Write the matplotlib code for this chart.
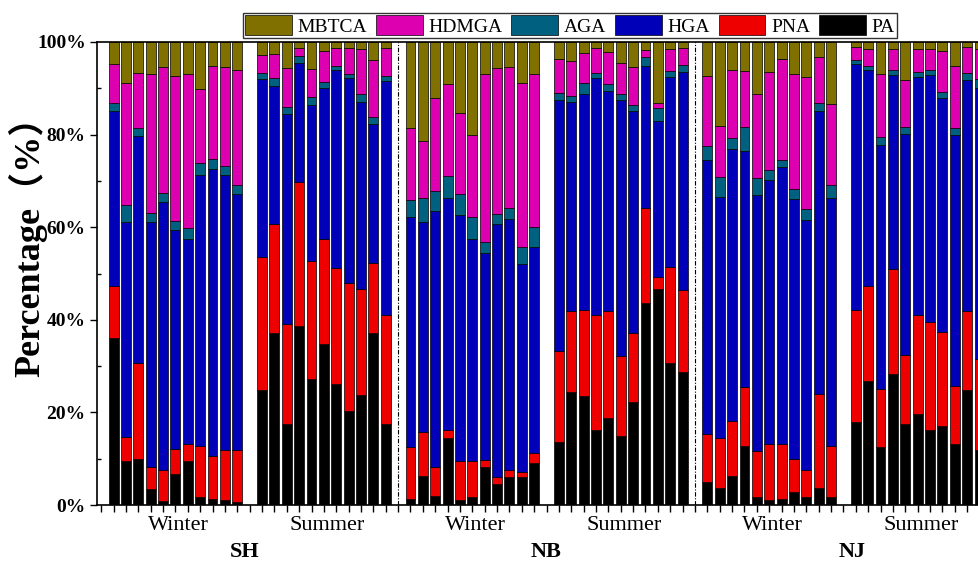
import numpy as np
import matplotlib.pyplot as plt

plt.rcParams['font.family'] = ['Liberation Serif', 'Noto Sans CJK SC']

species = ['PA', 'PNA', 'HGA', 'AGA', 'HDMGA', 'MBTCA']
colors = ['#000000', '#ee0000', '#0000b8', '#006080', '#dd00b0', '#7f7000']

# cumulative tops (%) of PA, PNA, HGA, AGA, HDMGA per sample, MBTCA fills up to 100
sh_winter = [[36.0, 47.2, 85.0, 86.8, 95.2], [9.4, 14.6, 61.2, 64.8, 91.1],
             [9.9, 30.6, 79.6, 81.4, 93.4], [3.5, 8.1, 61.1, 63.0, 93.0],
             [0.9, 7.6, 65.4, 67.3, 94.7], [6.6, 12.1, 59.4, 61.4, 92.7],
             [9.5, 13.2, 57.5, 59.8, 93.0], [1.8, 12.8, 71.3, 73.8, 89.8],
             [1.4, 10.6, 72.5, 74.7, 94.9], [1.1, 11.9, 71.3, 73.2, 94.5],
             [0.7, 11.9, 67.2, 69.1, 94.0]]
sh_summer = [[24.8, 53.6, 92.0, 93.2, 97.3], [37.2, 60.6, 90.5, 92.2, 97.4],
             [17.5, 39.0, 84.4, 85.9, 94.3], [38.7, 69.7, 95.5, 97.0, 98.6],
             [27.2, 52.6, 86.4, 88.2, 94.1], [34.8, 57.5, 90.0, 91.3, 98.1],
             [26.1, 51.1, 94.0, 94.8, 98.8], [20.4, 47.9, 92.2, 93.0, 98.6],
             [23.8, 46.7, 87.1, 88.7, 98.5], [37.1, 52.2, 82.2, 83.7, 96.1],
             [17.6, 41.0, 91.6, 92.7, 98.8]]
nb_winter = [[1.2, 12.6, 62.1, 65.9, 81.4], [6.3, 15.8, 61.2, 66.4, 78.6],
             [2.0, 8.1, 63.6, 67.9, 88.0], [14.4, 16.2, 66.4, 71.1, 90.9],
             [1.1, 9.4, 62.6, 67.1, 84.6], [1.7, 9.5, 57.4, 62.1, 79.9],
             [8.1, 9.7, 54.5, 56.7, 93.0], [4.5, 6.0, 60.6, 62.9, 94.3],
             [6.0, 7.6, 61.8, 64.1, 94.7], [6.0, 7.2, 52.0, 55.7, 91.2],
             [9.0, 11.3, 55.8, 60.1, 93.0]]
nb_summer = [[13.7, 33.3, 87.5, 88.9, 96.3], [24.5, 41.9, 87.0, 88.4, 96.0],
             [23.5, 42.1, 88.8, 91.1, 97.6], [16.3, 41.0, 92.2, 93.2, 98.6],
             [18.7, 41.8, 89.5, 90.9, 97.9], [14.8, 32.2, 87.5, 88.7, 95.4],
             [22.3, 37.1, 85.1, 86.4, 94.5], [43.6, 64.1, 94.8, 96.8, 98.3],
             [46.7, 49.3, 82.9, 85.7, 86.9], [30.6, 51.3, 92.4, 93.7, 98.5],
             [28.8, 46.4, 93.6, 95.0, 98.6]]
nj_winter = [[5.0, 15.3, 74.5, 77.6, 92.7], [3.6, 14.4, 66.6, 70.8, 81.9],
             [6.3, 18.2, 76.8, 79.3, 94.0], [12.8, 25.4, 76.5, 81.7, 93.7],
             [1.8, 11.7, 67.0, 70.6, 88.7], [1.1, 13.1, 70.1, 72.4, 93.6],
             [1.2, 13.2, 72.9, 74.5, 96.3], [2.7, 9.9, 66.0, 68.3, 93.0],
             [1.8, 7.6, 61.6, 63.9, 92.4], [3.6, 24.0, 85.1, 86.8, 96.7],
             [1.8, 12.8, 66.2, 69.1, 86.6]]
nj_summer = [[18.0, 42.1, 95.2, 96.1, 99.0], [26.8, 47.4, 94.0, 94.9, 98.5],
             [12.6, 25.0, 77.8, 79.4, 93.0], [28.2, 50.9, 92.8, 93.9, 98.4],
             [17.6, 32.5, 80.1, 81.7, 91.9], [19.7, 41.0, 92.4, 93.6, 98.5],
             [16.3, 39.5, 92.9, 94.0, 98.5], [17.1, 37.3, 87.8, 89.3, 98.1],
             [13.2, 25.8, 79.9, 81.5, 94.8], [24.8, 41.8, 91.8, 93.4, 99.0],
             [11.9, 31.5, 90.0, 92.0, 98.5]]

groups = [sh_winter, sh_summer, nb_winter, nb_summer, nj_winter, nj_summer]
group_start = [1, 13, 25, 37, 49, 61]
seasons = ['Winter', 'Summer'] * 3
sites = ['SH', 'NB', 'NJ']
site_pos = [11.6, 36.0, 60.7]

fig = plt.figure(figsize=(9.79, 5.62), dpi=100)
ax = fig.add_axes([97.5 / 979, 1 - 505 / 562, 72.6 * 12.37 / 979, 463 / 562])

handles = {}
for start, data in zip(group_start, groups):
    cum = np.array(data)
    cum = np.column_stack([np.zeros(len(cum)), cum, np.full(len(cum), 100.0)])
    x = start + np.arange(len(cum))
    for i, name in enumerate(species):
        b = ax.bar(x, cum[:, i + 1] - cum[:, i], bottom=cum[:, i], width=0.8,
                   color=colors[i], edgecolor='black', linewidth=0.5)
        handles[name] = b

for xv in [24, 48]:
    ax.axvline(xv, color='black', lw=0.8, ls=(0, (4, 1.5, 1, 1.5)))

ax.set_xlim(-0.3, 72.3)
ax.set_ylim(0, 100)
ax.set_xticks(np.arange(0, 73))
ax.set_xticklabels([])
ax.tick_params(axis='x', direction='out', length=5, width=1)
ax.set_yticks(np.arange(0, 101, 20))
ax.set_yticklabels([f'{v}%' for v in range(0, 101, 20)], fontsize=14, fontweight='bold')
ax.set_yticks(np.arange(10, 100, 20), minor=True)
ax.tick_params(axis='y', which='major', direction='out', length=5, width=1)
ax.tick_params(axis='y', which='minor', direction='in', length=3, width=1)
for s in ax.spines.values():
    s.set_linewidth(1.2)

for start, season in zip(group_start, seasons):
    ax.text(start + 5.25, -4.5, season, ha='center', va='center', fontsize=16)
for pos, site in zip(site_pos, sites):
    ax.text(pos, -10.2, site, ha='center', va='center', fontsize=16,
            fontweight='bold')

fig.text(28 / 979, 1 - 238 / 562, 'Percentage（%）', rotation=90, ha='center',
         va='center', fontsize=26, fontweight='bold')

order = ['MBTCA', 'HDMGA', 'AGA', 'HGA', 'PNA', 'PA']
leg = fig.legend([handles[n] for n in order], order, ncol=6, loc='center',
                 bbox_to_anchor=(570 / 979, 1 - 25.5 / 562), fontsize=14,
                 frameon=True, fancybox=False, edgecolor='black',
                 handlelength=2.4, handleheight=1.15, handletextpad=0.3,
                 columnspacing=0.45, borderpad=0.12, borderaxespad=0)
leg.get_frame().set_linewidth(1.0)

fig.savefig('out.png', dpi=100)
